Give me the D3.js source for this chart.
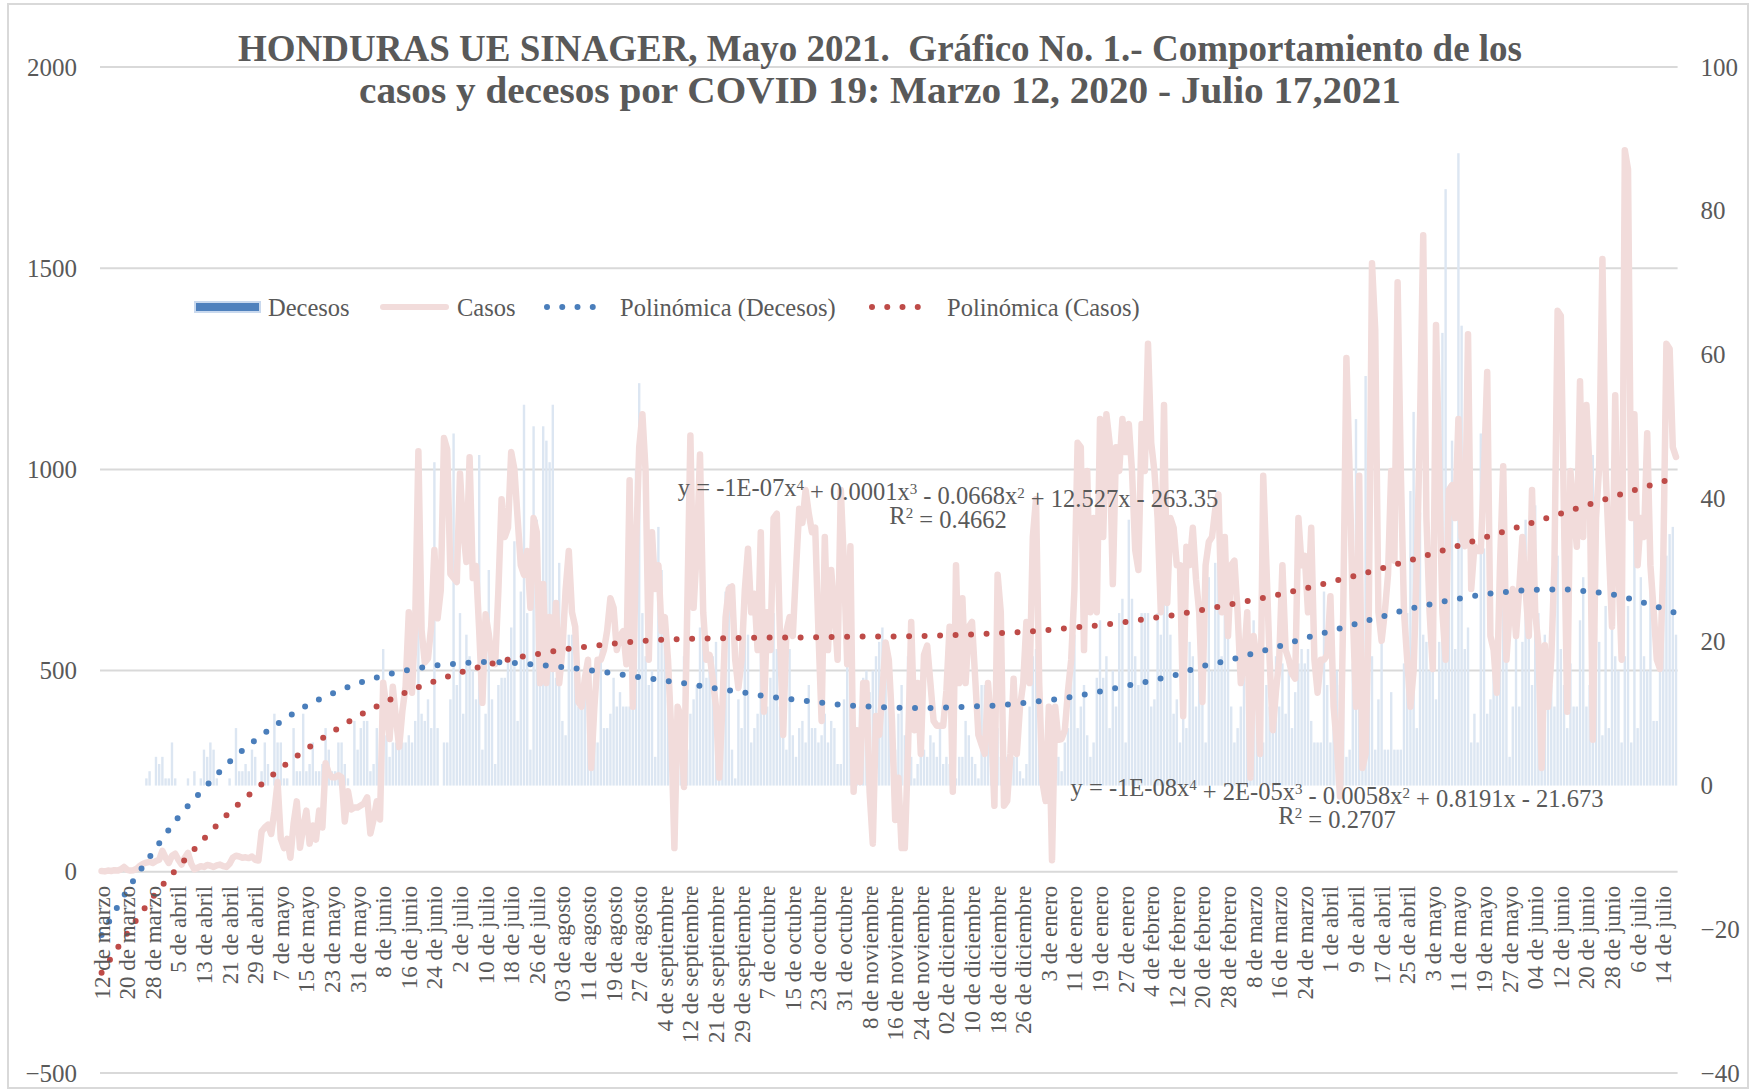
<!DOCTYPE html>
<html><head><meta charset="utf-8">
<script src="https://cdn.jsdelivr.net/npm/d3@7/dist/d3.min.js"></script>
<style>
body{margin:0;background:#fff}
text{font-family:"Liberation Serif","Times New Roman",serif;fill:#595959}
</style>
</head><body>
<svg id="chart" width="1751" height="1091"></svg>
<script>
const titleLines = ["HONDURAS UE SINAGER, Mayo 2021.  Gráfico No. 1.- Comportamiento de los",
                    "casos y decesos por COVID 19: Marzo 12, 2020 - Julio 17,2021"];
const tickLabels = ["12 de marzo","20 de marzo","28 de marzo","5 de abril","13 de abril","21 de abril","29 de abril",
"7 de mayo","15 de mayo","23 de mayo","31 de mayo","8 de junio","16 de junio","24 de junio","2 de julio","10 de julio",
"18 de julio","26 de julio","03 de agosto","11 de agosto","19 de agosto","27 de agosto","4 de septiembre",
"12 de septiembre","21 de septiembre","29 de septiembre","7 de octubre","15 de octubre","23 de octubre","31 de octubre",
"8 de noviembre","16 de noviembre","24 de noviembre","02 de diciembre","10 de diciembre","18 de diciembre","26 de diciembre",
"3 de enero","11 de enero","19 de enero","27 de enero","4 de febrero","12 de febrero","20 de febrero","28 de febrero",
"8 de marzo","16 de marzo","24 de marzo","1 de abril","9 de abril","17 de abril","25 de abril","3 de mayo","11 de mayo",
"19 de mayo","27 de mayo","04 de junio","12 de junio","20 de junio","28 de junio","6 de julio","14 de julio"];
const leftTicks = [-500,0,500,1000,1500,2000];
const rightTicks = [-40,-20,0,20,40,60,80,100];

const casos = [
2,1,3,2,4,3,6,12,5,3, 4,8,15,20,23,25,22,27,30,52, 35,22,40,45,30,18,35,47,20,6,
10,14,12,17,15,12,16,18,14,12, 20,35,40,38,35,36,34,38,30,28, 100,110,117,94,150,223,82,59,82,35,
120,175,60,110,152,70,115,80,152,110, 270,245,235,235,240,235,125,200,155,160,
160,165,170,185,95,130,175,130,470,410, 330,460,380,310,400,460,645,445,620,1045,
600,520,530,610,800,630,700,1078,1050,740, 730,720,990,850,770,1030,730,760,600,420, 640,590,527,
516,700,926,832,855,1043,1000,879,762,738, 797,656,879,844,469,715,469,633,504,668,
469,551,700,797,645,609,422,410,480,527, 258,410,527,527,551,600,680,656,551,586,
598,516,973,410,800,1055,1137,996,527,844, 703,762,598,633,527,352,59,410,387,211,
645,1084,656,800,1037,645,527,539,480,410, 234,410,633,703,709,527,457,527,700,803,
645,691,551,844,398,645,551,879,890,586, 340,598,633,586,750,902,867,949,890,844,
855,600,375,832,551,750,645,527,949,762, 516,809,199,352,223,469,469,199,70,387, 340,450,
570,527,375,129,234,59,59,300,621,352, 469,293,539,562,469,375,363,363,363,450,
609,199,762,469,680,469,609,621,480,340, 316,293,469,363,164,738,645,164,176,293,
480,293,410,469,621,469,832,926,469,223, 176,410,29,410,328,330,352,450,527,700,
1066,1055,551,996,645,879,645,1125,832,1137, 1066,715,1055,996,1125,1043,1113,996,800,750,
1113,996,1312,1066,996,879,645,1160,668,879, 855,762,762,387,808,762,855,727,645,422,
762,820,832,900,938,645,832,586,762,773, 645,469,527,645,234,586,527,293,984,762, 527,352,450,527,
762,551,527,492,480,879,762,785,645,855, 527,445,527,527,539,685,410,316,187,645,
1277,996,645,410,984,258,293,645,1512,1348, 645,574,645,738,996,773,1465,996,645,527,
410,500,762,1113,1582,879,645,504,1359,996, 645,527,949,961,879,1125,832,809,1336,703,
809,797,797,996,1242,586,551,445,762,1008, 527,645,703,586,703,832,700,
586,949,645,563,258,563,410,527,762,1394, 1382,879,398,996,900,808,1219,832,1160,996,
328,879,1008,1523,996,808,609,1184,762,527, 1793,1746,879,1137,762,879,832,1090,762,650,
527,504,762,1312,1300,1055,1031];

const decesos = [
0,0,0,0,0,0,0,0,0,0,0,0,0,0,
1,2,0,4,3,4,1,1,6,1, 0,0,0,1,0,2,0,1,5,4, 6,5,1,0,0,0,1,0,8,2, 2,3,2,5,4,0,2,6,3,0,
10,6,6,1,1,0,8,2,2,10, 2,3,6,2,2,3,8,5,2,2, 6,6,3,1,0,9,5,8,9,9, 2,3,8,0,19,7,4,6,6,9,
6,6,7,6,9,32,10,9,12,8, 45,8,0,6,6,12,49,14,24,10, 21,18,16,12,46,5,10,30,12,
3,14,15,15,18,22,34,9,27,53, 24,5,50,37,14,50,48,45,53,15, 31,9,7,21,21,18,11,11,14,11,
5,8,6,19,8,8,10,15,11,13, 11,11,11,24,44,56,24,18,14,16, 4,36,30,21,12,8,8,10,9,18,
5,10,12,14,22,24,15,18,18,20, 11,15,27,28,5,1,12,8,26,21, 6,8,10,24,19,11,15,24,19,11,
8,5,19,7,4,8,9,6,14,8, 8,6,7,10,6,9,8,3,3,12, 19,23,8,6,11,15,16,13,16,18, 20,22,
16,11,2,5,10,14,7,18,4,1, 3,4,5,4,7,6,4,8,3,4, 3,1,1,4,4,9,7,4,3,1, 14,14,12,12,11,8,4,3,4,2,
4,6,2,1,3,11,18,19,8,4, 5,4,3,2,4,2,6,8,21,21, 8,11,14,7,4,6,15,23,15,18, 8,16,11,24,26,6,37,26,18,14,
24,24,24,11,12,24,21,37,37,21, 10,12,6,18,8,20,18,11,20,14, 6,29,16,31,31,18,24,21,11,6,
8,11,16,11,18,23,11,4,6,14, 11,14,18,11,
17,10,16,8,13,17,19,17,19,9, 6,6,6,27,14,6,8,16,14,12, 4,5,17,51,16,12,57,34,18,5,
12,24,5,5,13,5,5,5,17,24, 41,52,8,38,21,20,16,17,12,20, 63,83,38,48,19,88,64,19,22,6,
10,6,49,33,10,12,18,18,27,42, 18,4,11,24,11,20,37,21,14,39, 24,12,21,18,14,11,32,19,14,8,
17,11,11,23,29,11,14,46,22,20, 7,25,8,22,18,16,6,18,25,6, 40,8,29,18,16,29,9,9,20,24, 32,35,36,21];

// Polynomial trendlines as drawn in the picture, read at every 8th day (12 de marzo ... 14 de julio) and at the last day
const trendCasos = [-251,-153,-63,12,82,148,204,257,305,347,386,419,449,473,495,513,529,541,552,560,567,573,577,579,
580,581,582,582,583,584,585,585,586,588,590,593,596,601,607,613,621,630,639,651,663,676,689,704,720,736,754,772,
791,810,830,850,870,890,911,931,951,970,978];
const trendDecesos = [-20.8,-14.6,-9.3,-4.4,-0.4,3.3,6.3,8.9,11.1,12.8,14.2,15.3,16.1,16.7,17.0,17.2,17.1,16.8,16.5,16.1,
15.6,15.1,14.6,14.1,13.5,13.0,12.4,12.0,11.6,11.2,11.0,10.85,10.8,10.85,11.0,11.15,11.5,11.9,12.4,13.1,13.85,14.6,15.45,
16.6,17.4,18.4,19.4,20.5,21.5,22.5,23.5,24.5,25.3,26.0,26.6,27.0,27.25,27.3,27.05,26.6,25.7,24.6,24.0];

const eqCasos = [["y = -1E-07x",0],["4",1],[" + 0.0001x",0],["3",1],[" - 0.0668x",0],["2",1],[" + 12.527x - 263.35",0]];
const r2Casos = [["R",0],["2",1],[" = 0.4662",0]];
const eqDecesos = [["y = -1E-08x",0],["4",1],[" + 2E-05x",0],["3",1],[" - 0.0058x",0],["2",1],[" + 0.8191x - 21.673",0]];
const r2Decesos = [["R",0],["2",1],[" = 0.2707",0]];

(function draw(){
const svg = d3.select("#chart");
const pL=100,pR=1677.6,pT=67,pB=1073;
const n = casos.length;
const trendIdx = k => Math.min(k*8, n-1);

svg.append("rect").attr("x",8).attr("y",4).attr("width",1740).attr("height",1084)
  .attr("fill","#fff").attr("stroke","#d9d9d9").attr("stroke-width",2);

const x = d3.scaleBand().domain(d3.range(n)).range([pL,pR]).paddingInner(0.25).paddingOuter(0.12);
const xc = i => x(i)+x.bandwidth()/2;
const y1 = d3.scaleLinear().domain([-500,2000]).range([pB,pT]);
const y2 = d3.scaleLinear().domain([-40,100]).range([pB,pT]);

svg.append("g").selectAll("line").data(leftTicks).join("line")
  .attr("x1",pL).attr("x2",pR).attr("y1",d=>y1(d)).attr("y2",d=>y1(d))
  .attr("stroke","#d9d9d9").attr("stroke-width",2);

svg.append("g").selectAll("rect").data(decesos).join("rect")
  .attr("x",(d,i)=>x(i)).attr("width",x.bandwidth())
  .attr("y",d=>y2(Math.max(0,d))).attr("height",d=>Math.abs(y2(d)-y2(0)))
  .attr("fill","#dce6f2");

svg.append("path").datum(casos)
  .attr("d",d3.line().x((d,i)=>xc(i)).y(d=>y1(d)))
  .attr("fill","none").attr("stroke","#f2dcdb").attr("stroke-width",6.5)
  .attr("stroke-linejoin","round").attr("stroke-linecap","round");

svg.append("path").datum(trendDecesos)
  .attr("d",d3.line().curve(d3.curveMonotoneX).x((d,k)=>xc(trendIdx(k))).y(d=>y2(d)))
  .attr("fill","none").attr("stroke","#4a7ebb").attr("stroke-width",6)
  .attr("stroke-dasharray","0 15.5").attr("stroke-linecap","round");
svg.append("path").datum(trendCasos)
  .attr("d",d3.line().curve(d3.curveMonotoneX).x((d,k)=>xc(trendIdx(k))).y(d=>y1(d)))
  .attr("fill","none").attr("stroke","#be4b48").attr("stroke-width",6)
  .attr("stroke-dasharray","0 15.5").attr("stroke-linecap","round");

const axL = svg.append("g").attr("transform",`translate(${pL},0)`)
  .call(d3.axisLeft(y1).tickValues(leftTicks).tickSize(0).tickPadding(23).tickFormat(d3.format("d")));
const axR = svg.append("g").attr("transform",`translate(${pR},0)`)
  .call(d3.axisRight(y2).tickValues(rightTicks).tickSize(0).tickPadding(23).tickFormat(d3.format("d")));
[axL,axR].forEach(a=>{a.select(".domain").remove(); a.selectAll("text").attr("font-size",25).attr("fill","#595959")
  .style("font-family",'"Liberation Serif",serif');});

const axB = svg.append("g").attr("transform",`translate(0,${y1(0)})`)
  .call(d3.axisBottom(x).tickValues(d3.range(0,n,8)).tickSize(0).tickFormat(i=>tickLabels[i/8]));
axB.select(".domain").remove();
axB.selectAll("text").attr("transform","rotate(-90)").attr("text-anchor","end")
  .attr("x",-14).attr("y",0).attr("dy","0.35em").attr("font-size",23).attr("fill","#595959")
  .style("font-family",'"Liberation Serif",serif');

titleLines.forEach((t,k)=>{
  svg.append("text").attr("x",880).attr("y",[61,103][k]).attr("text-anchor","middle")
    .attr("font-size",37).attr("font-weight","bold").style("white-space","pre")
    .attr("textLength",[1284,1042][k]).attr("lengthAdjust","spacingAndGlyphs").text(t);
});

const lg = svg.append("g");
const ly = 307;
lg.append("rect").attr("x",195).attr("y",ly-5).attr("width",65).attr("height",10)
  .attr("fill","#4f81bd").attr("stroke","#c9d9ee").attr("stroke-width",2);
lg.append("text").attr("x",268).attr("y",ly).attr("dy","0.35em").attr("font-size",24.5).text("Decesos");
lg.append("line").attr("x1",383).attr("x2",446).attr("y1",ly).attr("y2",ly)
  .attr("stroke","#f2dcdb").attr("stroke-width",6).attr("stroke-linecap","round");
lg.append("text").attr("x",457).attr("y",ly).attr("dy","0.35em").attr("font-size",24.5).text("Casos");
lg.append("line").attr("x1",547).attr("x2",608).attr("y1",ly).attr("y2",ly)
  .attr("stroke","#4a7ebb").attr("stroke-width",6).attr("stroke-dasharray","0 15.25").attr("stroke-linecap","round");
lg.append("text").attr("x",620).attr("y",ly).attr("dy","0.35em").attr("font-size",24.5).text("Polinómica (Decesos)");
lg.append("line").attr("x1",872).attr("x2",933).attr("y1",ly).attr("y2",ly)
  .attr("stroke","#be4b48").attr("stroke-width",6).attr("stroke-dasharray","0 15.25").attr("stroke-linecap","round");
lg.append("text").attr("x",947).attr("y",ly).attr("dy","0.35em").attr("font-size",24.5).text("Polinómica (Casos)");

function eq(parts,cx,by){
  const t = svg.append("text").attr("x",cx).attr("y",by).attr("text-anchor","middle").attr("font-size",24.5);
  let sup=false;
  parts.forEach(([s,p])=>{
    const ts=t.append("tspan").text(s);
    if(p && !sup){ ts.attr("dy","-0.4em").attr("font-size",15); sup=true; }
    else if(!p && sup){ ts.attr("dy","0.4em"); sup=false; }
  });
}
eq(eqCasos,948,496); eq(r2Casos,948,524);
eq(eqDecesos,1337,796); eq(r2Decesos,1337,824);
})();
</script>
</body></html>
